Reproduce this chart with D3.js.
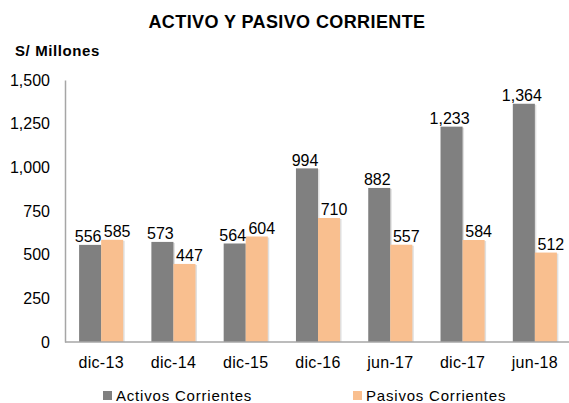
<!DOCTYPE html>
<html><head><meta charset="utf-8">
<script src="https://cdn.jsdelivr.net/npm/d3@7"></script>
<style>body{margin:0;background:#fff}svg{display:block}text{font-family:"Liberation Sans",Arial,sans-serif}</style>
</head><body>
<svg id="c" width="569" height="403"></svg>
<script>
const categories = ["dic-13","dic-14","dic-15","dic-16","jun-17","dic-17","jun-18"];
const activos = [556,573,564,994,882,1233,1364];
const pasivos = [585,447,604,710,557,584,512];
const seriesNames = ["Activos Corrientes","Pasivos Corrientes"];
const yTicks = [0,250,500,750,1000,1250,1500];
const colors = ["#808080","#F9BF8F"];

const svg = d3.select("#c");
const x0 = d3.scaleBand().domain(categories).range([65,571]).paddingInner(0.39).paddingOuter(0.195);
const x1 = d3.scaleBand().domain(seriesNames).range([0,x0.bandwidth()]);
const y = d3.scaleLinear().domain([0,1500]).range([342,80]);
const fmt = d3.format(",");
const FF = "Liberation Sans, Arial, sans-serif";

svg.append("text").attr("x",287).attr("y",28).attr("text-anchor","middle")
  .attr("font-weight","bold").attr("font-size",18).attr("letter-spacing",0.4).text("ACTIVO Y PASIVO CORRIENTE");
svg.append("text").attr("x",15).attr("y",56)
  .attr("font-weight","bold").attr("font-size",15).attr("letter-spacing",0.6).text("S/ Millones");

// bars
const data = categories.map((c,i)=>({c, vals:[activos[i],pasivos[i]]}));
const g = svg.append("g");
const groups = g.selectAll("g.grp").data(data).join("g").attr("transform",d=>`translate(${x0(d.c)},0)`);
const items = d=>d.vals.map((v,j)=>({v,s:seriesNames[j],j}));
// subtle shadow
groups.selectAll("rect.sh").data(items).join("rect").attr("class","sh")
  .attr("x",d=>x1(d.s)+1.5).attr("width",x1.bandwidth())
  .attr("y",d=>y(d.v)+1).attr("height",d=>y(0)-y(d.v)-1).attr("fill","#000").attr("opacity",0.12);
groups.selectAll("rect.b").data(items).join("rect").attr("class","b")
  .attr("x",d=>x1(d.s)).attr("width",x1.bandwidth())
  .attr("y",d=>y(d.v)).attr("height",d=>y(0)-y(d.v)).attr("fill",d=>colors[d.j]);
groups.selectAll("text").data(items)
  .join("text").attr("x",d=>x1(d.s)+x1.bandwidth()/2 + (d.j===1?5:-2)).attr("y",d=>y(d.v)-2.5)
  .attr("text-anchor","middle").attr("font-size",16).text(d=>fmt(d.v));

// y axis
const ya = svg.append("g").attr("transform","translate(65,0)")
  .call(d3.axisLeft(y).tickValues(yTicks).tickFormat(fmt).tickSize(0).tickPadding(15));
ya.select(".domain").attr("stroke","#a6a6a6").attr("stroke-width",1.5);
ya.selectAll("text").attr("font-size",16).attr("fill","#000").attr("font-family",FF);

// x axis
const xa = svg.append("g").attr("transform","translate(0,342)")
  .call(d3.axisBottom(x0).tickSize(0).tickPadding(15));
xa.select(".domain").attr("stroke","#a6a6a6").attr("stroke-width",1.5).attr("d","M65,0H569");
xa.selectAll("text").attr("font-size",16).attr("fill","#000").attr("font-family",FF).attr("letter-spacing",0.3);

// legend
const legX = [103,353];
seriesNames.forEach((s,i)=>{
  svg.append("rect").attr("x",legX[i]).attr("y",391).attr("width",9).attr("height",9).attr("fill",colors[i]);
  svg.append("text").attr("x",legX[i]+13).attr("y",401).attr("font-size",15).attr("letter-spacing",0.8).text(s);
});
</script>
</body></html>
